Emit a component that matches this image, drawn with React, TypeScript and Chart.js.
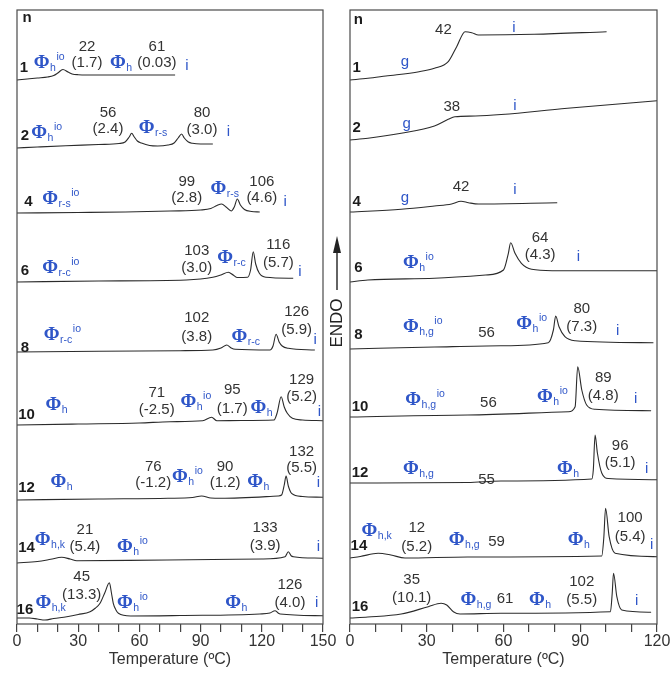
import { useEffect, useRef } from "react";
import { Chart, registerables } from "chart.js";
Chart.register(...registerables);

type Pt = [number, number];
type Lbl = [number, number, string];
type Ph = [number, number, string, string, string];

// ---------- Left panel (ionic complexes), heat flow rel. to trace start ----------
const leftRowNames = ["1", "2", "4", "6", "8", "10", "12", "14", "16"];
const leftOffsets = [544, 476, 411, 342, 272, 199, 124, 61, 6];
const leftN1: Pt[] = [[0,0],[5,1],[10,2],[15,3],[18,4.5],[20,7],[22.5,10.5],[25,8],[27,6],[30,5.3],[40,5],[60,5],[77.5,5]];
const leftN2: Pt[] = [[0,0],[10,1],[24,2.3],[40,3.5],[50,4.5],[53,6],[55,11],[56.2,14.7],[57.5,11],[59,7],[61,5],[65,2.5],[69,2],[74,3],[77,5],[79,10],[80.7,14],[82,10],[84,6],[86,4.7],[90,4],[96,4]];
const leftN4: Pt[] = [[0,0],[30,0.5],[53,1],[75,2],[90,3],[95,4.5],[98,7.5],[100.3,9],[102.5,6],[105,2],[106.5,6],[108,14],[109.5,8],[111.5,3.5],[115,1.5],[119,1]];
const leftN6: Pt[] = [[0,0],[40,1],[83,2],[96,4.7],[100,7],[103.6,9.7],[106,7],[108,4.5],[113,4.7],[114.5,12],[115.8,30.3],[117,18],[118.8,8.7],[122,4.7],[135.4,3.7]];
const leftN8: Pt[] = [[0,0],[40,0.7],[80,1.3],[96,2],[100,4],[102.8,7],[105,4],[107,2.7],[124,2],[125.5,6],[127,17.7],[128.5,10],[130,6],[133,3.7],[146,2]];
const leftN10: Pt[] = [[0,0],[30,1],[60,2],[75,3.3],[91,4.3],[95.4,7.7],[98,4.3],[110,4.5],[126,5],[127.5,12],[129.5,28.3],[131,18],[132.5,11.7],[135,6.7],[140,5],[150,4.3]];
const leftN12: Pt[] = [[0,0],[40,1],[74,1.7],[86,2.5],[90.5,4],[95,2],[100,1.7],[128,4],[129.7,5],[131,15],[131.9,24],[133,14],[134.6,6.7],[140,3.5],[150,2.7]];
const leftN14: Pt[] = [[0,0],[10,1.5],[16.5,3.7],[21.9,5.7],[26,4],[29.3,2.3],[73.5,3],[120,4],[131.4,6.3],[133,11.3],[134.5,7],[135.5,6.3],[150,4.7]];
const leftN16: Pt[] = [[0,0],[6,0],[10,-1],[13.7,-2],[18,-0.5],[24.4,1.3],[30,3.5],[35.8,6.3],[38.5,10],[40.7,14.7],[43,25],[45.3,35.3],[46.3,25],[47.2,14.7],[48.5,8],[49.7,4.7],[55.7,2],[80,2.5],[119,4],[124,5],[126.5,7.3],[128,5],[129,4],[150,2.3]];
const leftTraces = [leftN1, leftN2, leftN4, leftN6, leftN8, leftN10, leftN12, leftN14, leftN16];

const leftValues: Lbl[] = [
  [34.3,577,"22"],[34.3,561,"(1.7)"],[68.6,577,"61"],[68.6,561,"(0.03)"],
  [44.6,511,"56"],[44.6,495,"(2.4)"],[90.7,511,"80"],[90.7,494,"(3.0)"],
  [83.2,442,"99"],[83.2,426,"(2.8)"],[120,442,"106"],[120,426,"(4.6)"],
  [88.1,373,"103"],[88.1,356,"(3.0)"],[128.1,379,"116"],[128.1,361,"(5.7)"],
  [88.1,306,"102"],[88.1,287,"(3.8)"],[137.1,312,"126"],[137.1,294,"(5.9)"],
  [68.5,231,"71"],[68.5,214,"(-2.5)"],[105.5,234,"95"],[105.5,215,"(1.7)"],[139.5,244,"129"],[139.5,227,"(5.2)"],
  [66.8,157,"76"],[66.8,141,"(-1.2)"],[102,157,"90"],[102,141,"(1.2)"],[139.5,172,"132"],[139.5,156,"(5.5)"],
  [33.3,94,"21"],[33.3,77,"(5.4)"],[121.6,96,"133"],[121.6,78,"(3.9)"],
  [31.7,47,"45"],[31.7,29,"(13.3)"],[133.8,39,"126"],[133.8,21,"(4.0)"],
];
const leftRows: Lbl[] = [
  [4.9,606,"n"],[3.4,556,leftRowNames[0]],[3.9,488,leftRowNames[1]],[5.6,422,leftRowNames[2]],[3.9,353,leftRowNames[3]],
  [3.9,276,leftRowNames[4]],[4.7,209,leftRowNames[5]],[4.7,136,leftRowNames[6]],[4.7,76,leftRowNames[7]],[3.9,14,leftRowNames[8]],
];
const leftPhases: Ph[] = [
  [12.1,561,"Φ","h","io"],[49.5,561,"Φ","h",""],[83.3,558,"i","",""],
  [10.9,491,"Φ","h","io"],[63.6,496,"Φ","r-s",""],[103.6,492,"i","",""],
  [16.2,425,"Φ","r-s","io"],[98.7,435,"Φ","r-s",""],[131.4,422,"i","",""],
  [16.2,356,"Φ","r-c","io"],[102,366,"Φ","r-c",""],[138.7,352,"i","",""],
  [17,289,"Φ","r-c","io"],[109,287,"Φ","r-c",""],[146.1,284,"i","",""],
  [17.8,219,"Φ","h",""],[84,222,"Φ","h","io"],[118.3,216,"Φ","h",""],[148.2,212,"i","",""],
  [20.3,142,"Φ","h",""],[79.9,147,"Φ","h","io"],[116.7,142,"Φ","h",""],[147.7,141,"i","",""],
  [12.6,84,"Φ","h,k",""],[52.9,77,"Φ","h","io"],[147.7,77,"i","",""],
  [12.9,21,"Φ","h,k",""],[52.9,21,"Φ","h","io"],[106,21,"Φ","h",""],[146.9,21,"i","",""],
];

// ---------- Right panel ----------
const rightRowNames = ["1", "2", "4", "6", "8", "10", "12", "14", "16"];
const rightOffsets = [544, 484, 412, 342, 275, 207, 141, 66, 6];
const rightN1: Pt[] = [[0,0],[7,1.7],[14,4],[27,8.3],[33,11.7],[38.4,18.3],[41.7,33.3],[45,48.3],[47.6,47.3],[50.2,45],[72,45.7],[100.3,48.3]];
const rightN2: Pt[] = [[0,0],[7,1.7],[20,6.7],[33,14],[38.4,20.7],[41,23.3],[49,24],[85,31.7],[120,39.3]];
const rightN4: Pt[] = [[0,0],[20,2.7],[33,6],[39.7,8],[43.4,10.7],[46.3,9.3],[50.2,8],[81,9.3]];
const rightN6: Pt[] = [[0,0],[7,2],[33,3.7],[53,7],[60,12],[61.9,28.7],[62.8,39.3],[64.5,28.7],[67,18.7],[71,12.7],[79,11.3],[120,11.3]];
const rightN8: Pt[] = [[0,0],[33,2],[59,3.3],[77.5,6.3],[79.5,19],[80.4,33],[81.7,22.3],[84,12.3],[88,8.3],[118.6,6.3]];
const rightN10: Pt[] = [[0,0],[46,2],[85.4,5.3],[88,10.3],[89,50.3],[90.6,27],[92.5,12],[95.8,7.7],[117.7,6.3]];
const rightN12: Pt[] = [[0,0],[46,0.5],[59,2],[94.5,4],[95.1,13],[95.8,48],[96.7,30],[98.4,10],[101,4.5],[120,3.3]];
const rightN14: Pt[] = [[0,0],[4,1.5],[11,4.7],[16,3],[21.5,0],[46,1],[98.4,2],[99.2,20],[99.9,49.7],[101.3,21.3],[103.6,4.7],[120,1.3]];
const rightN16: Pt[] = [[0,0],[7,1],[20,4],[30.6,11.3],[35.6,14.7],[37.8,13],[40.4,6.3],[43,4],[59,4.7],[101.8,6.3],[102.5,25],[103,44.7],[104.3,21.3],[106.2,8],[117.7,5.7]];
const rightTraces = [rightN1, rightN2, rightN4, rightN6, rightN8, rightN10, rightN12, rightN14, rightN16];

const rightValues: Lbl[] = [
  [36.5,594,"42"],[39.8,517,"38"],[43.4,437,"42"],
  [74.3,386,"64"],[74.3,369,"(4.3)"],
  [53.4,291,"56"],[90.6,315,"80"],[90.6,297,"(7.3)"],
  [54.1,221,"56"],[99,246,"89"],[99,228,"(4.8)"],
  [53.4,144,"55"],[105.6,178,"96"],[105.6,161,"(5.1)"],
  [26.1,96,"12"],[26.1,77,"(5.2)"],[57.3,82,"59"],[109.5,106,"100"],[109.5,87,"(5.4)"],
  [24.1,44,"35"],[24.1,26,"(10.1)"],[60.6,25,"61"],[90.6,42,"102"],[90.6,24,"(5.5)"],
];
const rightRows: Lbl[] = [
  [3.3,604,"n"],[2.6,556,rightRowNames[0]],[2.6,496,rightRowNames[1]],[2.6,422,rightRowNames[2]],[3.3,356,rightRowNames[3]],
  [3.3,289,rightRowNames[4]],[3.9,217,rightRowNames[5]],[3.9,151,rightRowNames[6]],[3.5,78,rightRowNames[7]],[3.9,17,rightRowNames[8]],
];
const rightPhases: Ph[] = [
  [21.5,562,"g","",""],[64.1,596,"i","",""],
  [22.2,500,"g","",""],[64.5,518,"i","",""],
  [21.5,426,"g","",""],[64.5,434,"i","",""],
  [23.8,361,"Φ","h","io"],[89.3,367,"i","",""],
  [23.8,297,"Φ","h,g","io"],[68.1,300,"Φ","h","io"],[104.6,293,"i","",""],
  [24.7,224,"Φ","h,g","io"],[76.2,227,"Φ","h","io"],[111.7,225,"i","",""],
  [23.8,155,"Φ","h,g",""],[84,155,"Φ","h",""],[116,155,"i","",""],
  [7.6,93,"Φ","h,k",""],[41.7,84,"Φ","h,g",""],[88.2,84,"Φ","h",""],[117.9,79,"i","",""],
  [46.3,24,"Φ","h,g",""],[73,24,"Φ","h",""],[112.1,23,"i","",""],
];

const xTitle = "Temperature (ºC)";
const SANS = '"Liberation Sans", Arial, Helvetica, sans-serif';
const BLUE = "#2f56c8";
const W = 671;
const H = 677;

function labelPlugin(values: Lbl[], phases: Ph[], rows: Lbl[], endo: boolean) {
  return {
    id: "labels",
    afterDraw(chart: any) {
      const { ctx, chartArea: a } = chart;
      const x = chart.scales.x;
      const y = chart.scales.y;
      ctx.save();
      ctx.strokeStyle = "#4a4a4a";
      ctx.lineWidth = 1.2;
      ctx.strokeRect(a.left, a.top, a.right - a.left, a.bottom - a.top);
      ctx.textBaseline = "middle";
      ctx.textAlign = "center";
      ctx.fillStyle = "#333";
      ctx.font = `15px ${SANS}`;
      for (const [t, v, s] of values) ctx.fillText(s, x.getPixelForValue(t), y.getPixelForValue(v));
      ctx.fillStyle = "#1c1c1c";
      ctx.font = `bold 15px ${SANS}`;
      for (const [t, v, s] of rows) ctx.fillText(s, x.getPixelForValue(t), y.getPixelForValue(v));
      for (const [t, v, main, sub, sup] of phases) {
        const px = x.getPixelForValue(t);
        const py = y.getPixelForValue(v);
        ctx.fillStyle = BLUE;
        ctx.textAlign = "center";
        ctx.font = main === "Φ" ? 'bold 19px "Liberation Serif", serif' : `15px ${SANS}`;
        ctx.fillText(main, px, py);
        const w = ctx.measureText(main).width;
        ctx.font = `10.5px ${SANS}`;
        ctx.textAlign = "left";
        let cx = px + w / 2 + 0.5;
        if (sub) {
          ctx.fillText(sub, cx, py + 5);
          cx += ctx.measureText(sub).width + 0.5;
        }
        if (sup) ctx.fillText(sup, cx, py - 6);
      }
      if (endo) {
        const ax = a.right + 14;
        const cy = a.top + 313;
        ctx.fillStyle = "#222";
        ctx.strokeStyle = "#222";
        ctx.lineWidth = 1.4;
        ctx.save();
        ctx.translate(ax, cy);
        ctx.rotate(-Math.PI / 2);
        ctx.textAlign = "center";
        ctx.font = `17px ${SANS}`;
        ctx.fillText("ENDO", 0, 0);
        ctx.restore();
        ctx.beginPath();
        ctx.moveTo(ax, cy - 33);
        ctx.lineTo(ax, cy - 72);
        ctx.stroke();
        ctx.beginPath();
        ctx.moveTo(ax, cy - 87);
        ctx.lineTo(ax - 4, cy - 70);
        ctx.lineTo(ax + 4, cy - 70);
        ctx.closePath();
        ctx.fill();
      }
      ctx.restore();
    },
  };
}

function makeConfig(
  traces: Pt[][],
  offsets: number[],
  xmax: number,
  padding: { left: number; right: number; top: number; bottom: number },
  values: Lbl[],
  phases: Ph[],
  rows: Lbl[],
  endo: boolean
): any {
  return {
    type: "line",
    data: {
      datasets: traces.map((tr, i) => ({
        data: tr.map(([t, h]) => ({ x: t, y: offsets[i] + h })),
        borderColor: "#2b2b2b",
        borderWidth: 1.1,
        pointRadius: 0,
        cubicInterpolationMode: "monotone",
        fill: false,
      })),
    },
    options: {
      responsive: false,
      animation: false,
      events: [],
      layout: { padding },
      plugins: { legend: { display: false }, tooltip: { enabled: false } },
      scales: {
        x: {
          type: "linear",
          min: 0,
          max: xmax,
          afterFit: (s: any) => {
            s.height = 53;
          },
          border: { display: false },
          grid: { drawOnChartArea: false, drawTicks: true, tickLength: 8, color: "#444", lineWidth: 1.2 },
          ticks: {
            stepSize: 10,
            autoSkip: false,
            maxRotation: 0,
            color: "#333",
            padding: 0,
            font: { family: SANS, size: 16 },
            callback: (v: any) => (Number(v) % 30 === 0 ? String(v) : ""),
          },
          title: {
            display: true,
            text: xTitle,
            color: "#333",
            font: { family: SANS, size: 16 },
            padding: { top: 0, bottom: 8 },
          },
        },
        y: { type: "linear", display: false, min: 0, max: 614 },
      },
    },
    plugins: [labelPlugin(values, phases, rows, endo)],
  };
}

export default function App() {
  const leftRef = useRef<HTMLCanvasElement | null>(null);
  const rightRef = useRef<HTMLCanvasElement | null>(null);
  useEffect(() => {
    const c1 = new Chart(
      leftRef.current as HTMLCanvasElement,
      makeConfig(leftTraces, leftOffsets, 150, { left: 17, right: W - 323, top: 10, bottom: 0 }, leftValues, leftPhases, leftRows, true)
    );
    const c2 = new Chart(
      rightRef.current as HTMLCanvasElement,
      makeConfig(rightTraces, rightOffsets, 120, { left: 350, right: W - 657, top: 10, bottom: 0 }, rightValues, rightPhases, rightRows, false)
    );
    return () => {
      c1.destroy();
      c2.destroy();
    };
  }, []);
  const cs: any = { position: "absolute", left: 0, top: 0, width: W, height: H };
  return (
    <div style={{ position: "absolute", left: 0, top: 0, width: W, height: H, background: "#fff" }}>
      <canvas ref={leftRef} width={W} height={H} style={cs} />
      <canvas ref={rightRef} width={W} height={H} style={cs} />
    </div>
  );
}
